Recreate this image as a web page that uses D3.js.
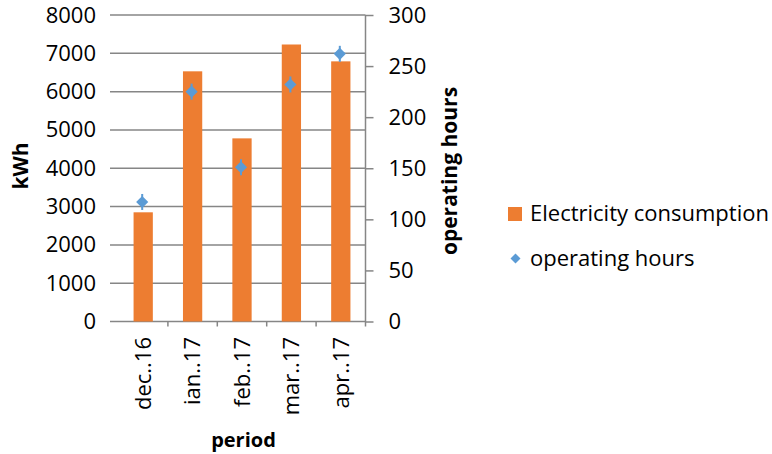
<!DOCTYPE html>
<html>
<head>
<meta charset="utf-8">
<script src="https://cdn.jsdelivr.net/npm/d3@7"></script>
<style>
  html, body { margin: 0; padding: 0; background: #fff; }
  svg { display: block; font-family: "Open Sans", sans-serif; }
</style>
</head>
<body>
<svg id="chart" width="772" height="454"></svg>
<script>
// Monthly electricity use (kWh, left axis) and operating hours (right axis)
const periods = ["dec..16", "ian..17", "feb..17", "mar..17", "apr..17"];
const consumption = [2850, 6530, 4780, 7230, 6790];
const operatingHours = [117, 225, 151, 232, 262];
const kwhTicks = [0, 1000, 2000, 3000, 4000, 5000, 6000, 7000, 8000];
const hourTicks = [0, 50, 100, 150, 200, 250, 300];

const orange = "#ED7D31";
const blue = "#5B9BD5";
const grid = "#868686";
const fontSize = 22;

const svg = d3.select("#chart");

const plot = { left: 110, bandLeft: 118.5, right: 365.5, top: 15, bottom: 321.5 };

const x = d3.scaleBand().domain(periods).range([plot.bandLeft, plot.right]).paddingInner(0.61).paddingOuter(0.305);
const yL = d3.scaleLinear().domain([0, 8000]).range([plot.bottom, plot.top]);
const yR = d3.scaleLinear().domain([0, 300]).range([plot.bottom, plot.top]);

// horizontal gridlines at each kWh tick
svg.append("g").selectAll("line").data(kwhTicks).join("line")
  .attr("x1", plot.left).attr("x2", plot.right)
  .attr("y1", d => yL(d)).attr("y2", d => yL(d))
  .attr("stroke", grid).attr("stroke-width", 1.5);

// left axis labels
const leftAxis = svg.append("g").attr("transform", `translate(${plot.left - 14},0)`)
  .call(d3.axisLeft(yL).tickValues(kwhTicks).tickFormat(d3.format("d")).tickSize(0).tickPadding(0));
leftAxis.select(".domain").remove();
leftAxis.selectAll("text").attr("font-size", fontSize).attr("font-family", "Open Sans").attr("fill", "#000");

// right axis
const rightAxis = svg.append("g").attr("transform", `translate(${plot.right},0)`)
  .call(d3.axisRight(yR).tickValues(hourTicks).tickFormat(d3.format("d")).tickSize(8).tickPadding(15).tickSizeOuter(0));
rightAxis.select(".domain").attr("stroke", grid).attr("stroke-width", 1.5)
  .attr("d", `M0,${plot.top}V${plot.bottom + 5}`);
rightAxis.selectAll(".tick line").attr("stroke", grid).attr("stroke-width", 1.5);
rightAxis.selectAll("text").attr("font-size", fontSize).attr("font-family", "Open Sans").attr("fill", "#000");

// category tick marks along the bottom
const step = x.step();
const boundaries = periods.slice(1).map(p => x(p) - (step - x.bandwidth()) / 2);
svg.append("g").selectAll("line").data(boundaries).join("line")
  .attr("x1", d => d).attr("x2", d => d)
  .attr("y1", plot.bottom).attr("y2", plot.bottom + 5)
  .attr("stroke", grid).attr("stroke-width", 1.5);

// bars
svg.append("g").selectAll("rect").data(periods).join("rect")
  .attr("x", p => x(p))
  .attr("width", x.bandwidth())
  .attr("y", (p, i) => yL(consumption[i]))
  .attr("height", (p, i) => plot.bottom - yL(consumption[i]))
  .attr("fill", orange);

// operating hours markers: diamond with a short vertical stroke
const diamond = d3.symbol().type(d3.symbolSquare).size(74);
const markers = svg.append("g").selectAll("g").data(periods).join("g")
  .attr("transform", (p, i) => `translate(${x(p) + x.bandwidth() / 2 - 1},${yR(operatingHours[i])})`);
markers.append("line").attr("y1", -8).attr("y2", 8).attr("stroke", blue).attr("stroke-width", 2);
markers.append("path").attr("d", diamond).attr("transform", "rotate(45)").attr("fill", blue);

// category labels, rotated
svg.append("g").selectAll("text").data(periods).join("text")
  .attr("transform", p => `translate(${x(p) + x.bandwidth() / 2},337) rotate(-90)`)
  .attr("text-anchor", "end")
  .attr("dy", "0.35em")
  .attr("font-size", fontSize)
  .text(p => p);

// axis titles
svg.append("text").attr("transform", "translate(28,166) rotate(-90)")
  .attr("text-anchor", "middle").attr("font-weight", "bold").attr("font-size", 21).text("kWh");
svg.append("text").attr("transform", "translate(457,171) rotate(-90)")
  .attr("text-anchor", "middle").attr("font-weight", "bold").attr("font-size", 21).text("operating hours");
svg.append("text").attr("x", 243.5).attr("y", 447)
  .attr("text-anchor", "middle").attr("font-weight", "bold").attr("font-size", 20).text("period");

// legend
const legend = svg.append("g");
legend.append("rect").attr("x", 508).attr("y", 207).attr("width", 14).attr("height", 14).attr("fill", orange);
legend.append("text").attr("x", 530).attr("y", 221).attr("font-size", fontSize).text("Electricity consumption");
legend.append("path").attr("d", d3.symbol().type(d3.symbolSquare).size(50))
  .attr("transform", "translate(515.5,258.5) rotate(45)").attr("fill", blue);
legend.append("text").attr("x", 530).attr("y", 266).attr("font-size", fontSize).text("operating hours");
</script>
</body>
</html>
